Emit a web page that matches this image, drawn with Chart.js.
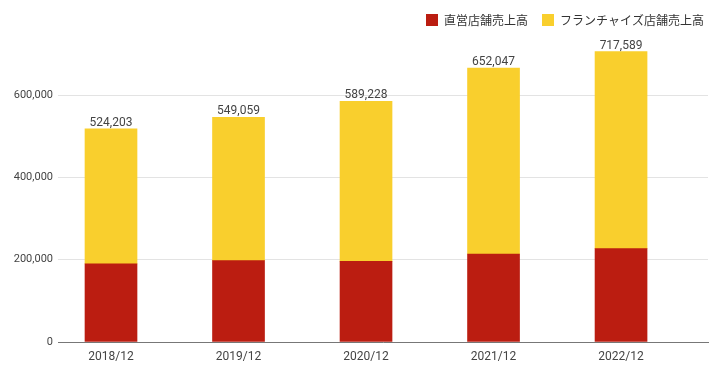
<!DOCTYPE html>
<html lang="ja">
<head>
<meta charset="UTF-8">
<title>店舗売上高</title>
<script src="https://cdn.jsdelivr.net/npm/chart.js@4/dist/chart.umd.min.js"></script>
<style>
  html, body { margin: 0; padding: 0; background: #fff; }
  .wrap { width: 710px; height: 365px; }
</style>
</head>
<body>
<div class="wrap"><canvas id="salesChart"></canvas></div>
<script>
// 決算期
const periods = ['2018/12', '2019/12', '2020/12', '2021/12', '2022/12'];
// 直営店舗売上高
const directSales = [190000, 198000, 196000, 214000, 227000];
// フランチャイズ店舗売上高
const franchiseSales = [328000, 348000, 389000, 452000, 479000];
// 棒の上に表示されている合計値
const totalLabels = [524203, 549059, 589228, 652047, 717589];
// 目盛り
const yTicks = [0, 200000, 400000, 600000];

const fmt = n => n.toLocaleString('en-US');
const toPoints = arr => arr.map((v, i) => ({ x: i, y: v }));

// 合計ラベル
const totalsPlugin = {
  id: 'totals',
  afterDatasetsDraw(chart) {
    const ctx = chart.ctx;
    const meta = chart.getDatasetMeta(1);
    ctx.save();
    ctx.font = '12px Roboto';
    ctx.fillStyle = '#444';
    ctx.textAlign = 'center';
    ctx.textBaseline = 'alphabetic';
    meta.data.forEach((bar, i) => {
      ctx.fillText(fmt(totalLabels[i]), bar.x, bar.y - 3);
    });
    ctx.restore();
  }
};

// 凡例の高さと位置
const legendTweak = {
  id: 'legendTweak',
  beforeInit(chart) {
    const fit = chart.legend.fit;
    chart.legend.fit = function () {
      fit.bind(chart.legend)();
      this.height = 36;
    };
  },
  afterLayout(chart) {
    chart.legend.left += 10;
    chart.legend.right += 10;
  }
};

new Chart(document.getElementById('salesChart'), {
  type: 'bar',
  data: {
    datasets: [
      { label: '直営店舗売上高', data: toPoints(directSales), backgroundColor: '#bb1d11' },
      { label: 'フランチャイズ店舗売上高', data: toPoints(franchiseSales), backgroundColor: '#f9cf2d' }
    ]
  },
  options: {
    responsive: true,
    maintainAspectRatio: false,
    animation: false,
    layout: { padding: { left: 0, right: 2, top: 0, bottom: 0 } },
    datasets: { bar: { barThickness: 52 } },
    plugins: {
      tooltip: { enabled: false },
      legend: {
        position: 'top',
        align: 'end',
        labels: {
          boxWidth: 12,
          boxHeight: 12,
          padding: 14,
          color: '#333',
          font: { family: "'Noto Sans CJK JP'", size: 12 }
        }
      }
    },
    scales: {
      x: {
        type: 'linear',
        stacked: true,
        offset: false,
        min: -0.4157,
        max: 4.682,
        grid: { display: false, drawTicks: false },
        border: { display: true, color: '#777', width: 1 },
        afterBuildTicks: axis => { axis.ticks = periods.map((_, i) => ({ value: i })); },
        afterFit: axis => { axis.height = 23; },
        ticks: {
          autoSkip: false,
          maxRotation: 0,
          padding: 8,
          color: '#444',
          font: { family: 'Roboto', size: 12 },
          callback: v => periods[v]
        }
      },
      y: {
        stacked: true,
        min: 0,
        max: 744000,
        grid: { color: '#e3e3e3', drawTicks: false },
        border: { display: false },
        afterBuildTicks: axis => { axis.ticks = yTicks.map(v => ({ value: v })); },
        afterFit: axis => { axis.width = 58; },
        ticks: {
          padding: 5,
          color: '#444',
          font: { family: 'Roboto', size: 11 },
          callback: v => fmt(v)
        }
      }
    }
  },
  plugins: [totalsPlugin, legendTweak]
});
</script>
</body>
</html>
